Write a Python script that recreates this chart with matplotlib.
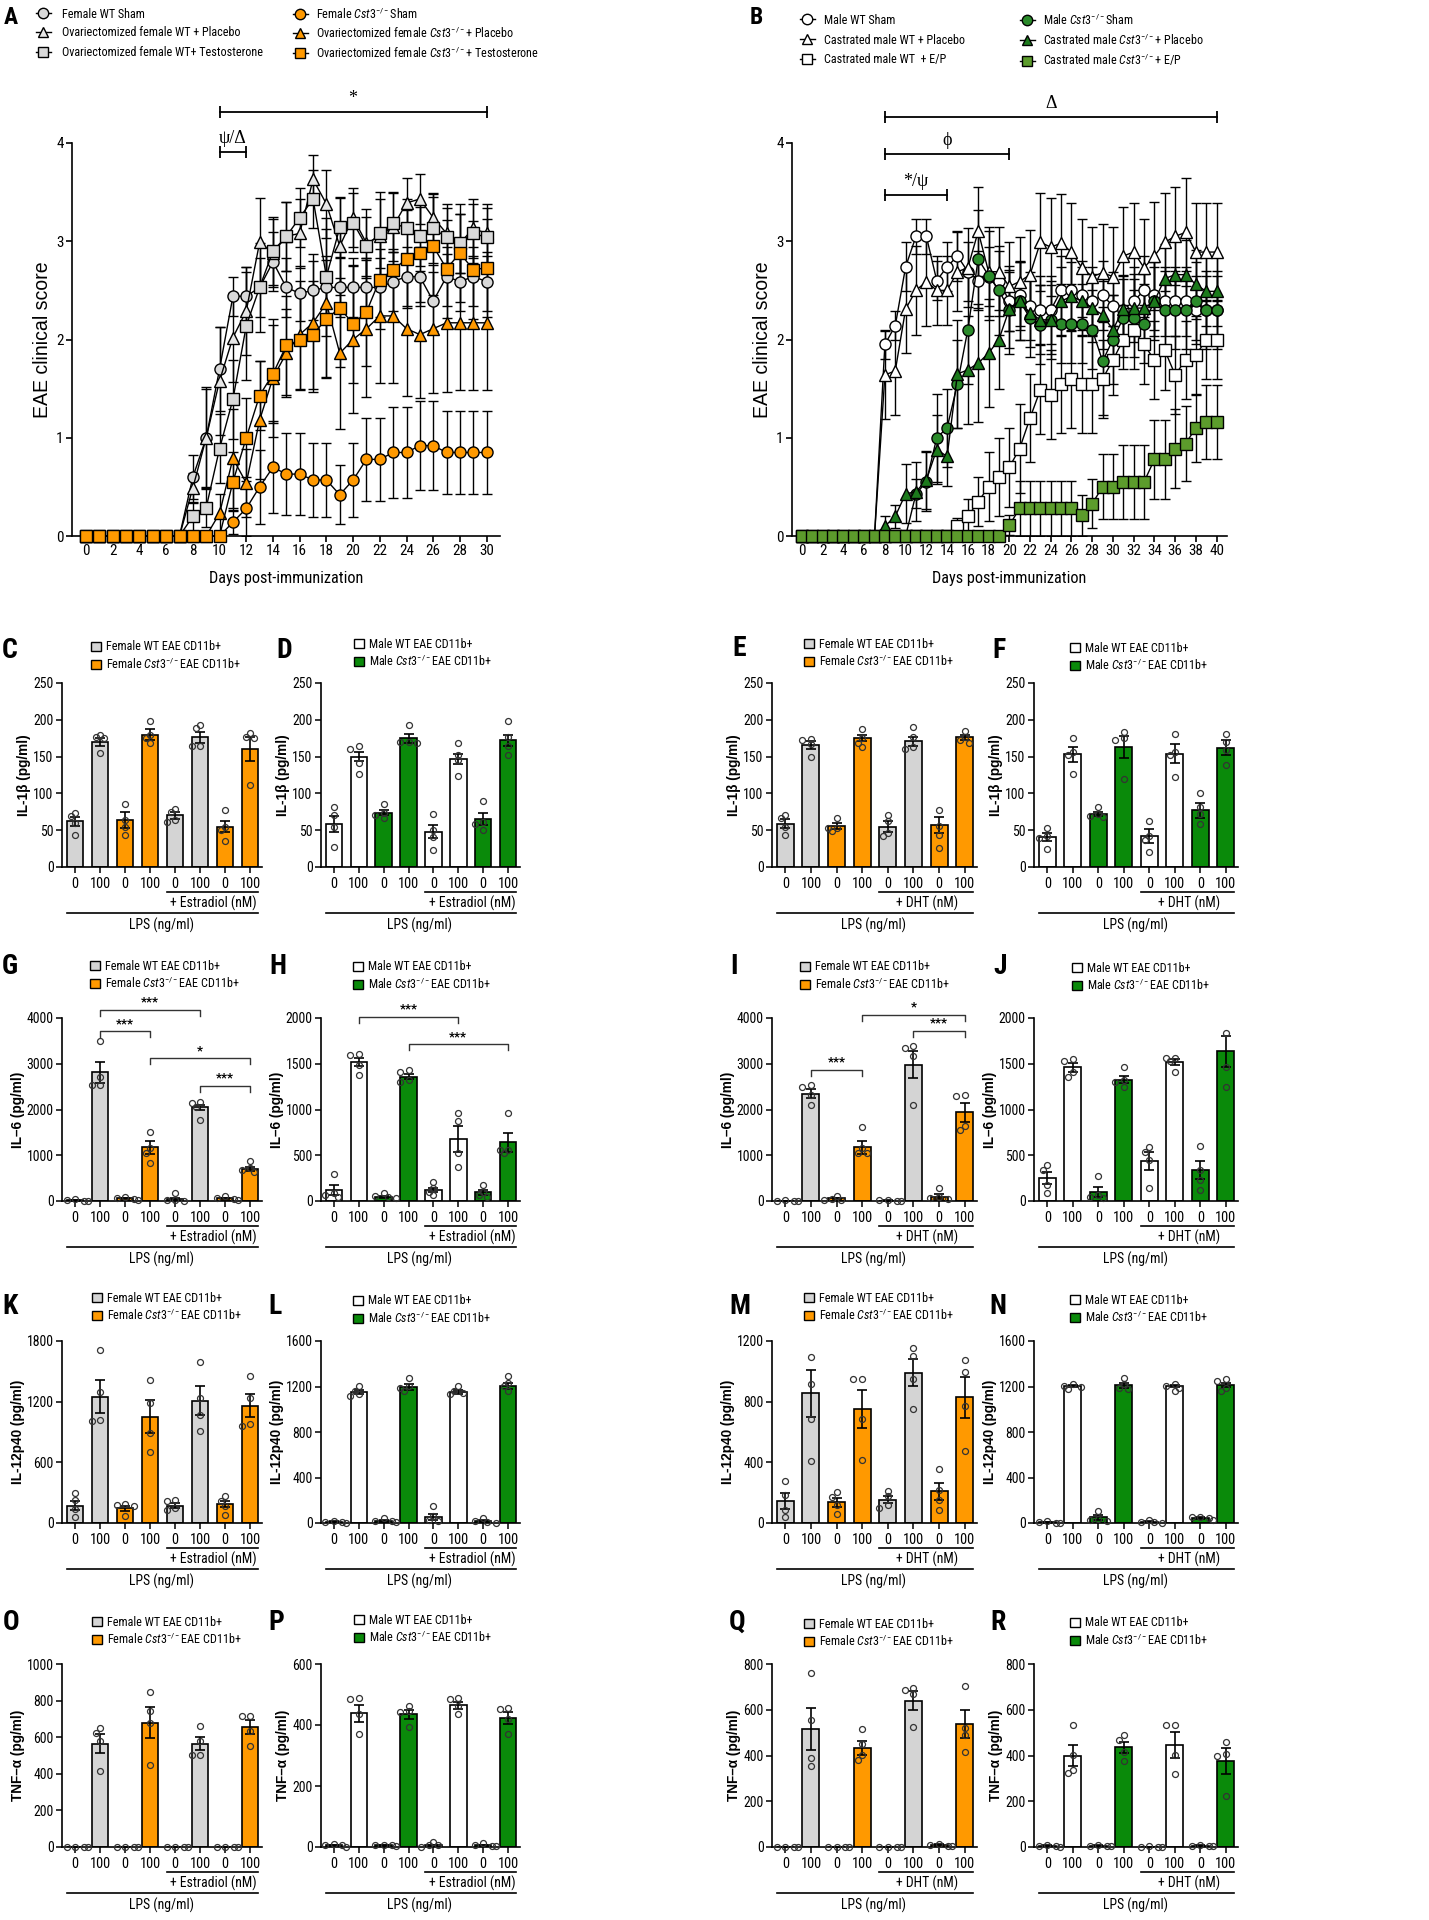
import numpy as np
import matplotlib
matplotlib.use('Agg')
import matplotlib.pyplot as plt
from matplotlib import font_manager
from matplotlib.font_manager import FontProperties
from matplotlib.textpath import TextPath
from matplotlib.lines import Line2D
from matplotlib.patches import Patch

# ---------- font selection (prefer a narrow sans face) ----------
_entries = font_manager.fontManager.ttflist
_names = {f.name for f in _entries}

def _w(f):
    w = f.weight
    if isinstance(w, str):
        w = font_manager.weight_dict.get(w, 400)
    return int(w)

def _has_bold(name):
    return any(f.name == name and _w(f) >= 600 and f.style == 'normal' for f in _entries)

FONT = 'Liberation Sans'
for cand in ('Liberation Sans Narrow', 'Arial Narrow', 'Nimbus Sans Narrow', 'Roboto Condensed',
             'PT Sans Narrow', 'Fira Sans Condensed', 'IBM Plex Sans Condensed', 'Archivo Narrow',
             'Encode Sans Condensed', 'Asap Condensed', 'Barlow Semi Condensed'):
    if cand in _names:
        FONT = cand
        break
REG = 'Liberation Sans' if 'Liberation Sans' in _names else 'DejaVu Sans'
SERIF = 'Liberation Serif' if 'Liberation Serif' in _names else 'DejaVu Serif'
FAM = [FONT, 'DejaVu Sans']
REGFAM = [REG, 'DejaVu Sans']
BOLDFAM = FAM if _has_bold(FONT) else REGFAM
plt.rcParams['font.family'] = FAM
plt.rcParams['mathtext.fontset'] = 'custom'
plt.rcParams['mathtext.rm'] = FONT
plt.rcParams['mathtext.it'] = FONT + ':italic'
plt.rcParams['mathtext.bf'] = FONT + ':bold'
plt.rcParams['axes.linewidth'] = 1.2

# ---------------- DATA: panel A (female EAE) ----------------
days_A = list(range(31))
A_wt_sham = [0]*8 + [0.60,1.00,1.70,2.44,2.44,2.53,2.79,2.53,2.47,2.50,2.53,2.53,2.53,2.53,2.53,2.59,2.64,2.64,2.39,2.64,2.59,2.64,2.59]
A_wt_sham_sem = [0]*8 + [0.22,0.52,0.43,0.20,0.30,0.30,0.30,0.30,0.28,0.30,0.32,0.30,0.30,0.30,0.30,0.30,0.30,0.30,0.30,0.30,0.30,0.30,0.30]
A_wt_pla = [0]*8 + [0.49,1.00,1.58,2.02,2.29,2.99,2.88,3.05,3.08,3.63,3.38,2.95,3.24,2.98,3.05,3.15,3.39,3.43,3.24,3.08,2.98,3.13,3.08]
A_wt_pla_sem = [0]*8 + [0.15,0.50,0.55,0.45,0.45,0.45,0.35,0.35,0.35,0.25,0.35,0.50,0.30,0.35,0.45,0.35,0.25,0.25,0.25,0.30,0.30,0.30,0.30]
A_wt_T = [0]*8 + [0.20,0.29,0.89,1.39,2.14,2.53,2.90,3.05,3.24,3.43,2.64,3.14,3.19,2.95,3.08,3.19,3.13,3.05,3.13,3.04,2.98,3.08,3.04]
A_wt_T_sem = [0]*8 + [0.15,0.20,0.35,0.40,0.55,0.45,0.35,0.35,0.30,0.30,0.60,0.30,0.30,0.30,0.35,0.30,0.30,0.30,0.35,0.30,0.30,0.30,0.30]
A_ko_sham = [0]*11 + [0.14,0.28,0.50,0.70,0.63,0.63,0.57,0.57,0.42,0.57,0.78,0.78,0.85,0.85,0.92,0.92,0.85,0.85,0.85,0.85]
A_ko_sham_sem = [0]*11 + [0.12,0.28,0.38,0.47,0.42,0.42,0.38,0.38,0.30,0.38,0.42,0.42,0.46,0.46,0.45,0.45,0.42,0.42,0.42,0.42]
A_ko_pla = [0]*10 + [0.23,0.79,0.54,1.18,1.61,1.86,2.05,2.17,2.37,1.86,2.00,2.11,2.24,2.24,2.11,2.05,2.11,2.17,2.17,2.17,2.17]
A_ko_pla_sem = [0]*10 + [0.20,0.50,0.35,0.60,0.60,0.45,0.55,0.70,0.75,0.77,0.75,0.70,0.68,0.68,0.68,0.65,0.65,0.70,0.68,0.68,0.68]
A_ko_T = [0]*11 + [0.55,1.00,1.43,1.65,1.94,1.99,2.05,2.21,2.32,2.16,2.28,2.61,2.71,2.82,2.88,2.95,2.72,2.88,2.71,2.73]
A_ko_T_sem = [0]*11 + [0.30,0.40,0.35,0.50,0.50,0.50,0.55,0.60,0.60,0.60,0.55,0.50,0.50,0.50,0.50,0.50,0.50,0.50,0.50,0.50]
KO = r'$\mathit{Cst3}^{-/-}$'
A_labels = ['Female WT Sham', 'Ovariectomized female WT + Placebo', 'Ovariectomized female WT+ Testosterone',
            'Female ' + KO + 'Sham', 'Ovariectomized female ' + KO + '+ Placebo',
            'Ovariectomized female ' + KO + '+ Testosterone']

# ---------------- DATA: panel B (male EAE) ----------------
days_B = list(range(41))
B_wt_sham = [0]*8 + [1.95,2.14,2.74,3.05,3.05,2.60,2.74,2.85,2.69,2.60,2.64,2.60,2.39,2.45,2.34,2.30,2.30,2.50,2.50,2.45,2.39,2.45,2.34,2.30,2.39,2.50,2.45,2.39,2.39,2.39,2.30,2.30,2.30]
B_wt_sham_sem = [0]*8 + [0.15,0.15,0.25,0.18,0.18,0.20,0.25,0.25,0.30,0.30,0.30,0.30,0.30,0.35,0.35,0.35,0.35,0.35,0.35,0.35,0.35,0.35,0.35,0.35,0.35,0.35,0.35,0.35,0.35,0.35,0.35,0.35,0.35]
B_wt_pla = [0]*8 + [1.64,1.68,2.31,2.50,2.59,2.50,2.50,2.69,2.73,3.10,2.69,2.69,2.54,2.59,2.66,2.99,2.94,2.98,2.89,2.73,2.64,2.68,2.64,2.85,2.89,2.73,2.85,2.99,3.05,3.09,2.89,2.89,2.89]
B_wt_pla_sem = [0]*8 + [0.45,0.45,0.45,0.45,0.45,0.35,0.35,0.40,0.40,0.45,0.45,0.45,0.45,0.45,0.45,0.50,0.50,0.50,0.50,0.50,0.50,0.50,0.50,0.50,0.50,0.50,0.55,0.50,0.50,0.55,0.50,0.50,0.50]
B_wt_EP = [0]*15 + [0.10,0.20,0.35,0.50,0.60,0.70,0.89,1.20,1.49,1.44,1.55,1.60,1.55,1.55,1.60,1.79,2.00,2.10,1.95,1.79,1.89,1.64,1.79,1.84,2.00,2.00]
B_wt_EP_sem = [0]*15 + [0.08,0.18,0.25,0.35,0.40,0.40,0.45,0.45,0.45,0.45,0.50,0.50,0.50,0.50,0.40,0.35,0.30,0.40,0.40,0.40,0.40,0.40,0.40,0.40,0.40,0.40]
B_ko_sham = [0]*11 + [0.43,0.55,1.00,1.10,1.55,2.10,2.82,2.65,2.50,2.30,2.39,2.22,2.15,2.20,2.16,2.16,2.16,2.10,1.78,2.00,2.22,2.22,2.16,2.39,2.30,2.30,2.30,2.39,2.30,2.30]
B_ko_sham_sem = [0]*11 + [0.15,0.30,0.45,0.40,0.45,0.55,0.50,0.45,0.45,0.45,0.40,0.40,0.40,0.40,0.40,0.40,0.40,0.40,0.55,0.45,0.40,0.40,0.40,0.40,0.40,0.40,0.40,0.40,0.40,0.40]
B_ko_pla = [0]*8 + [0.10,0.20,0.43,0.45,0.57,0.88,0.81,1.65,1.69,1.76,1.86,2.00,2.31,2.39,2.27,2.20,2.20,2.39,2.44,2.39,2.32,2.25,2.10,2.31,2.32,2.32,2.39,2.62,2.66,2.66,2.56,2.49,2.49]
B_ko_pla_sem = [0]*8 + [0.10,0.12,0.30,0.30,0.30,0.35,0.30,0.55,0.55,0.60,0.55,0.50,0.40,0.40,0.35,0.35,0.35,0.35,0.35,0.35,0.35,0.35,0.35,0.35,0.35,0.35,0.35,0.35,0.35,0.35,0.35,0.35,0.35]
B_ko_EP = [0]*20 + [0.11,0.28,0.28,0.28,0.28,0.28,0.28,0.21,0.33,0.50,0.50,0.55,0.55,0.55,0.78,0.78,0.89,0.94,1.10,1.16,1.16]
B_ko_EP_sem = [0]*20 + [0.10,0.28,0.28,0.28,0.28,0.28,0.28,0.21,0.25,0.33,0.33,0.38,0.38,0.38,0.40,0.40,0.40,0.38,0.35,0.38,0.38]
B_labels = ['Male WT Sham', 'Castrated male WT + Placebo', 'Castrated male WT  + E/P',
            'Male ' + KO + 'Sham', 'Castrated male ' + KO + '+ Placebo',
            'Castrated male ' + KO + '+ E/P']

# ---------------- DATA: bar panels (mean, SEM, individual points) ----------------
bar_ticklabels = ['0', '100', '0', '100', '0', '100', '0', '100']
C_mean = [62,170,64,180,70,176,55,160]
C_sem = [6,5,11,8,5,7,8,16]
C_pts = [[43,60,69,73],[155,175,176,180],[43,55,64,86],[168,175,180,198],[61,64,75,79],[164,164,189,193],[36,50,55,77],[111,175,177,182]]
D_mean = [58,150,74,175,48,147,65,172]
D_sem = [11,6,3,6,9,7,8,8]
D_pts = [[27,55,70,82],[127,141,161,164],[66,70,73,86],[168,170,170,193],[23,41,50,72],[123,145,152,168],[50,59,61,89],[152,164,177,198]]
E_mean = [59,166,56,175,55,171,57,176]
E_sem = [6,5,4,4,8,6,11,3]
E_pts = [[44,55,66,71],[149,167,173,174],[49,53,53,67],[163,169,175,187],[42,46,62,71],[160,163,177,190],[26,44,56,78],[169,172,177,185]]
F_mean = [41,153,72,163,42,154,77,162]
F_sem = [5,10,3,15,9,13,10,10]
F_pts = [[24,40,42,53],[127,152,156,175],[68,69,72,81],[120,172,175,184],[21,37,42,63],[122,152,156,181],[58,72,81,101],[138,159,170,181]]
G_mean = [20,2810,60,1175,40,2045,60,695]
G_sem = [10,230,15,140,25,60,15,50]
G_pts = [[0,10,20,50],[2525,2540,2720,3490],[30,40,60,90],[840,1045,1150,1500],[5,20,30,180],[1775,2065,2140,2160],[30,40,70,100],[640,680,715,880]]
H_mean = [120,1515,45,1360,120,675,95,640]
H_sem = [55,45,10,30,25,140,25,100]
H_pts = [[45,65,85,300],[1380,1490,1600,1605],[30,40,60,85],[1305,1325,1415,1435],[65,100,140,205],[375,520,870,960],[45,65,100,175],[520,560,560,960]]
I_mean = [5,2345,55,1175,10,2980,95,1935]
I_sem = [5,100,20,140,5,300,50,200]
I_pts = [[0,0,10,30],[2100,2320,2500,2540],[20,30,50,120],[1045,1060,1150,1615],[0,10,20,30],[2100,3160,3345,3380],[40,60,95,280],[1555,1630,2300,2320]]
J_mean = [250,1460,100,1325,440,1520,340,1635]
J_sem = [65,45,55,40,100,30,100,170]
J_pts = [[85,175,340,395],[1360,1415,1525,1550],[30,45,65,275],[1250,1305,1325,1460],[140,450,540,590],[1415,1525,1560,1560],[120,230,340,605],[1250,1460,1835]]
K_mean = [171,1250,145,1053,171,1211,188,1162]
K_sem = [45,165,25,165,25,140,30,110]
K_pts = [[59,138,230,296],[1004,1020,1300,1711],[66,165,174,191],[698,888,1185,1415],[132,148,214,230],[905,1069,1234,1596],[82,165,214,263],[961,980,1234,1454]]
L_mean = [10,1151,20,1198,50,1151,15,1204]
L_sem = [5,15,10,25,25,15,8,30]
L_pts = [[0,5,10,20],[1115,1130,1160,1204],[5,15,20,40],[1160,1189,1204,1277],[15,29,59,147],[1130,1145,1160,1204],[0,10,20,40],[1160,1204,1233,1292]]
M_mean = [145,856,138,750,154,992,208,829]
M_sem = [50,155,30,125,25,90,55,135]
M_pts = [[37,88,182,279],[406,684,915,1097],[59,116,171,204],[417,684,948,950],[101,116,175,213],[750,950,1101,1152],[88,154,215,355],[478,772,998,1075]]
N_mean = [5,1204,50,1210,10,1204,44,1213]
N_sem = [3,10,20,20,5,10,8,15]
N_pts = [[0,0,5,15],[1174,1195,1204,1218],[15,29,38,103],[1174,1189,1218,1277],[0,5,10,30],[1160,1189,1204,1218],[30,45,50,55],[1160,1189,1248,1262]]
O_mean = [0,565,0,680,0,565,0,656]
O_sem = [0,50,0,85,0,35,0,40]
O_pts = [[0,0,0,0],[413,577,623,650],[0,0,0,0],[450,678,741,847],[0,0,0,0],[505,505,577,659],[0,0,0,0],[550,632,714,714]]
P_mean = [5,439,5,435,5,465,5,424]
P_sem = [2,28,1,15,3,12,2,20]
P_pts = [[0,5,5,10],[370,435,485,487],[3,5,5,6],[392,441,446,463],[0,5,5,15],[435,463,485,487],[2,4,5,12],[370,419,454,457]]
Q_mean = [0,516,0,433,0,640,10,538]
Q_sem = [0,90,0,30,0,40,3,60]
Q_pts = [[0,0,0,0],[353,389,557,761],[0,0,0,0],[382,404,452,516],[0,0,0,0],[523,669,688,695],[5,5,10,15],[414,491,520,706]]
R_mean = [5,399,5,436,0,446,5,376]
R_sem = [2,45,2,25,0,55,2,55]
R_pts = [[2,5,5,8],[323,338,402,532],[3,5,5,8],[377,414,468,488],[0,0,2,4],[319,402,532,535],[3,5,5,8],[223,399,407,458]]
G_brackets = [(1,5,4180,'***'),(1,3,3710,'***'),(3,7,3125,'*'),(5,7,2520,'***')]
H_brackets = [(1,5,2015,'***'),(3,7,1715,'***')]
I_brackets = [(3,7,4070,'*'),(5,7,3720,'***'),(1,3,2870,'***')]
female_labels = ['Female WT EAE CD11b+', 'Female ' + KO + 'EAE CD11b+']
male_labels = ['Male WT EAE CD11b+', 'Male ' + KO + 'EAE CD11b+']

# ---------------- colours ----------------
GREY = '#d4d4d4'
ORANGE = '#ff9900'
GREEN = '#0a8a0a'

W, H = 1429, 1920
fig = plt.figure(figsize=(W/100, H/100), dpi=100)
_rend = fig.canvas.get_renderer()

def fx(x): return x / W
def fy(y): return 1 - y / H

def size_for(s, w_px, cap_px=None, weight='normal', family=None, hw=0.5):
    """font size (pt): weighted compromise between the reference's text width and cap height"""
    fam = family or FAM
    t = fig.text(0, 0, s, fontsize=10, fontweight=weight, family=fam)
    w = t.get_window_extent(_rend).width
    t.remove()
    sw = 10 * w_px / w
    if cap_px is None:
        return sw
    tp = TextPath((0, 0), 'H', size=100, prop=FontProperties(family=fam, weight=weight))
    cap_em = tp.get_extents().height / 100.0
    sh = cap_px / (cap_em * 100 / 72)
    return sw ** (1 - hw) * sh ** hw

FS_ALEG = size_for('Ovariectomized female WT+ Testosterone', 202, 8.5, hw=0.6)
FS_BLEG = size_for('Female WT EAE CD11b+', 108, 9.0, hw=0.6)
FS_HORM = 0.5 * (size_for('+ Estradiol (nM)', 78, 10.5, hw=0.65) + size_for('LPS (ng/ml)', 57, 10.5, hw=0.65))
FS_XT = size_for('100', 18, 10.7, hw=0.75)
FS_YT = size_for('250', 19, 10.0, hw=0.7)
FS_ATK = size_for('30', 15, 10.7, hw=0.75)
FS_DAYS = size_for('Days post-immunization', 152, 11.7, hw=0.55)
FS_EAEY = size_for('EAE clinical score', 157, family=REGFAM)
FS_BARY = size_for('IL-1β (pg/ml)', 82, weight='bold', family=REGFAM)
FS_STAR = size_for('***', 18, weight='bold')
FS_LET = size_for('C', 14, 20, weight='bold', family=BOLDFAM, hw=0.85)
FS_LETAB = size_for('A', 13, 17, weight='bold', family=BOLDFAM, hw=0.85)

def add_ax(l, t, r, b):
    return fig.add_axes([l/W, 1-b/H, (r-l)/W, (b-t)/H])

def letter(x, y, s, fs):
    fig.text(fx(x), fy(y), s, fontsize=fs, fontweight='bold', ha='center', va='center', family=BOLDFAM)

YLABELS = []   # (axes, text, reference offset in px) -> kept clear of the tick labels below

# ---------------- EAE panels ----------------
def eae_panel(box, days, series, xlim, ticks, sig):
    l, t, r, b = box
    ax = add_ax(l, t, r, b)
    d = np.array(days)
    for vals, sems, mk, fc in series:
        v = np.array(vals); s = np.array(sems)
        m = s > 0
        ax.errorbar(d[m], v[m], yerr=s[m], fmt='none', ecolor='black', elinewidth=1.0,
                    capsize=3.5, capthick=1.0, zorder=2)
    for vals, sems, mk, fc in series:
        ax.plot(d, vals, color='black', lw=1.0, marker=mk, ms=8, mfc=fc, mec='black', mew=1.0,
                zorder=3, clip_on=False)
    ax.set_xlim(*xlim)
    ax.set_ylim(0, 4)
    ax.set_yticks([0, 1, 2, 3, 4])
    ax.set_xticks(ticks)
    ax.tick_params(labelsize=FS_ATK, length=4, width=1.2, pad=2)
    for sp in ('top', 'right'):
        ax.spines[sp].set_visible(False)
    yl = ax.text(-29/(r-l), 0.5, 'EAE clinical score', transform=ax.transAxes, rotation=90,
                 ha='center', va='center', fontsize=FS_EAEY, family=REGFAM)
    YLABELS.append((ax, yl, 29))
    ax.text(0.5, -42/(b-t), 'Days post-immunization', transform=ax.transAxes,
            ha='center', va='center', fontsize=FS_DAYS)
    for x0, x1, yv, txt in sig:
        ax.plot([x0, x1], [yv, yv], color='black', lw=1.3, clip_on=False)
        ax.plot([x0, x1], [yv, yv], ls='none', marker='|', ms=8, mew=1.3, color='black', clip_on=False)
        ax.text((x0+x1)/2, yv + 0.05, txt, ha='center', va='bottom', fontsize=13,
                family=[SERIF, 'DejaVu Serif'])
    return ax

def eae_legend(specs, labels, x_marker, x_text, ys):
    fs = FS_ALEG
    fs_px = fs * 100 / 72
    hl_px = 15
    for (mk, fc), lab, y in zip(specs, labels, ys):
        h = Line2D([], [], color='black', lw=1.0, marker=mk, ms=7.5, mfc=fc, mec='black', mew=1.0)
        fig.legend([h], [lab], loc='center left',
                   bbox_to_anchor=(fx(x_marker - hl_px/2), fy(y)),
                   frameon=False, fontsize=fs, handlelength=hl_px/fs_px,
                   handletextpad=(x_text - x_marker - hl_px/2)/fs_px,
                   borderpad=0, borderaxespad=0, numpoints=1)

A_specs = [('o', '#d9d9d9'), ('^', '#e6e6e6'), ('s', '#d9d9d9'),
           ('o', ORANGE), ('^', ORANGE), ('s', ORANGE)]
A_series = [(A_wt_sham, A_wt_sham_sem), (A_wt_pla, A_wt_pla_sem), (A_wt_T, A_wt_T_sem),
            (A_ko_sham, A_ko_sham_sem), (A_ko_pla, A_ko_pla_sem), (A_ko_T, A_ko_T_sem)]
eae_panel((72, 143, 500, 536), days_A,
          [(v, s, mk, fc) for (v, s), (mk, fc) in zip(A_series, A_specs)],
          (-1.05, 31.0), list(range(0, 31, 2)),
          [(10, 30, 4.32, '*'), (10, 12, 3.91, 'ψ/Δ')])
B_specs = [('o', 'white'), ('^', 'white'), ('s', 'white'),
           ('o', '#2a8a2a'), ('^', '#1c7a1c'), ('s', '#5c9c2c')]
B_series = [(B_wt_sham, B_wt_sham_sem), (B_wt_pla, B_wt_pla_sem), (B_wt_EP, B_wt_EP_sem),
            (B_ko_sham, B_ko_sham_sem), (B_ko_pla, B_ko_pla_sem), (B_ko_EP, B_ko_EP_sem)]
eae_panel((792, 143, 1227, 536), days_B,
          [(v, s, mk, fc) for (v, s), (mk, fc) in zip(B_series, B_specs)],
          (-0.96, 41.0), list(range(0, 41, 2)),
          [(8, 40, 4.265, 'Δ'), (8, 20, 3.89, 'ϕ'), (8, 14, 3.47, '*/ψ')])

letter(11, 17, 'A', FS_LETAB)
letter(756, 17, 'B', FS_LETAB)
eae_legend(A_specs[:3], A_labels[:3], 43, 62, (14, 33, 53))
eae_legend(A_specs[3:], A_labels[3:], 300, 316, (14, 33, 53))
eae_legend(B_specs[:3], B_labels[:3], 807, 824, (20, 40, 60))
eae_legend(B_specs[3:], B_labels[3:], 1027, 1043, (20, 40, 60))

# ---------------- bar panels ----------------
COLS = [(62, 262), (321, 520), (772, 977), (1034, 1238)]
ROWS = [(683, 867), (1018, 1201), (1341, 1523), (1664, 1847)]

def bar_legend(female, xsq, y1):
    fs = FS_BLEG
    fs_px = fs * 100 / 72
    sq = 9.5
    labels = female_labels if female else male_labels
    cols = [GREY, ORANGE] if female else ['white', GREEN]
    for k, (c, lab) in enumerate(zip(cols, labels)):
        h = Patch(facecolor=c, edgecolor='black', lw=1.0)
        fig.legend([h], [lab], loc='center left', bbox_to_anchor=(fx(xsq - sq/2), fy(y1 + 17*k)),
                   frameon=False, fontsize=fs, handlelength=sq/fs_px, handleheight=sq/fs_px,
                   handletextpad=5/fs_px, borderpad=0, borderaxespad=0)

def bar_panel(col, row, means, sems, pts, female, ymax, ystep, ylabel, hormone, ylab_off, brackets=()):
    l, r = COLS[col]
    t, b = ROWS[row]
    ax = add_ax(l, t, r, b)
    hpx = b - t
    c_wt, c_ko = (GREY, ORANGE) if female else ('white', GREEN)
    colors = [c_wt, c_wt, c_ko, c_ko] * 2
    x = np.arange(8)
    ax.bar(x, means, width=0.66, color=colors, edgecolor='black', linewidth=1.2, zorder=2)
    ax.errorbar(x, means, yerr=sems, fmt='none', ecolor='black', elinewidth=1.2,
                capsize=3.5, capthick=1.2, zorder=3)
    upp = ymax / hpx
    xpx = (r - l) / 8.0
    for i, p in enumerate(pts):
        placed = []
        for v in sorted(p, reverse=True):
            for off in (0, -0.17, 0.17, -0.34, 0.34, -0.5, 0.5):
                if all(((off - o) * xpx) ** 2 + ((v - w) / upp) ** 2 >= 26 for o, w in placed):
                    break
            placed.append((off, v))
        ax.plot([i + o for o, _ in placed], [w for _, w in placed], ls='none', marker='o', ms=4.3,
                mfc='none', mec='#333333', mew=0.9, zorder=4, clip_on=False)
    ax.set_xlim(-0.52, 7.48)
    ax.set_ylim(0, ymax)
    ax.set_yticks(np.arange(0, ymax + ystep / 2, ystep))
    ax.set_xticks(x)
    ax.set_xticklabels(bar_ticklabels)
    ax.tick_params(axis='y', labelsize=FS_YT, length=4, width=1.1, pad=2)
    ax.tick_params(axis='x', labelsize=FS_XT, length=4, width=1.1, pad=3)
    for sp in ('top', 'right'):
        ax.spines[sp].set_visible(False)
    tr = ax.get_xaxis_transform()
    ax.plot([3.67, 7.33], [-25 / hpx] * 2, transform=tr, clip_on=False, color='black', lw=1.2)
    ax.text(5.55, -36 / hpx, hormone, transform=tr, ha='center', va='center', fontsize=FS_HORM)
    ax.plot([-0.32, 7.33], [-46 / hpx] * 2, transform=tr, clip_on=False, color='black', lw=1.2)
    ax.text(3.45, -58 / hpx, 'LPS (ng/ml)', transform=tr, ha='center', va='center', fontsize=FS_HORM)
    yl = ax.text(-ylab_off / (r - l), 0.5, ylabel, transform=ax.transAxes, rotation=90,
                 ha='center', va='center', fontsize=FS_BARY, fontweight='bold', family=REGFAM)
    YLABELS.append((ax, yl, ylab_off))
    for i, j, yv, txt in brackets:
        dd = 6 * upp
        ax.plot([i, i, j, j], [yv - dd, yv, yv, yv - dd], color='#333333', lw=1.0, clip_on=False)
        ax.text((i + j) / 2, yv + 1 * upp, txt, ha='center', va='bottom', fontsize=FS_STAR, fontweight='bold')
    return ax

EST = '+ Estradiol (nM)'
DHT = '+ DHT (nM)'
IL1 = 'IL-1β (pg/ml)'
IL6 = 'IL–6 (pg/ml)'
IL12 = 'IL-12p40 (pg/ml)'
TNF = 'TNF–α (pg/ml)'

bar_panel(0, 0, C_mean, C_sem, C_pts, True, 250, 50, IL1, EST, 30)
bar_panel(1, 0, D_mean, D_sem, D_pts, False, 250, 50, IL1, EST, 34)
bar_panel(2, 0, E_mean, E_sem, E_pts, True, 250, 50, IL1, DHT, 30)
bar_panel(3, 0, F_mean, F_sem, F_pts, False, 250, 50, IL1, DHT, 31)
bar_panel(0, 1, G_mean, G_sem, G_pts, True, 4000, 1000, IL6, EST, 38, G_brackets)
bar_panel(1, 1, H_mean, H_sem, H_pts, False, 2000, 500, IL6, EST, 38, H_brackets)
bar_panel(2, 1, I_mean, I_sem, I_pts, True, 4000, 1000, IL6, DHT, 37, I_brackets)
bar_panel(3, 1, J_mean, J_sem, J_pts, False, 2000, 500, IL6, DHT, 34)
bar_panel(0, 2, K_mean, K_sem, K_pts, True, 1800, 600, IL12, EST, 37)
bar_panel(1, 2, L_mean, L_sem, L_pts, False, 1600, 400, IL12, EST, 37)
bar_panel(2, 2, M_mean, M_sem, M_pts, True, 1200, 400, IL12, DHT, 35)
bar_panel(3, 2, N_mean, N_sem, N_pts, False, 1600, 400, IL12, DHT, 34)
bar_panel(0, 3, O_mean, O_sem, O_pts, True, 1000, 200, TNF, EST, 40)
bar_panel(1, 3, P_mean, P_sem, P_pts, False, 600, 200, TNF, EST, 34)
bar_panel(2, 3, Q_mean, Q_sem, Q_pts, True, 800, 200, TNF, DHT, 34)
bar_panel(3, 3, R_mean, R_sem, R_pts, False, 800, 200, TNF, DHT, 33)

letters = [('C', 10, 650), ('D', 284, 650), ('E', 739, 648), ('F', 999, 650),
           ('G', 10, 967), ('H', 278, 967), ('I', 734, 967), ('J', 1000, 967),
           ('K', 10, 1307), ('L', 275, 1307), ('M', 740, 1307), ('N', 998, 1307),
           ('O', 11, 1622), ('P', 276, 1622), ('Q', 737, 1622), ('R', 998, 1622)]
for s, x, y in letters:
    letter(x, y, s, FS_LET)

legends = [(True, 96, 647), (False, 359, 644), (True, 809, 644), (False, 1075, 648),
           (True, 95, 966), (False, 358, 967), (True, 805, 967), (False, 1077, 968),
           (True, 97, 1298), (False, 358, 1301), (True, 809, 1298), (False, 1075, 1300),
           (True, 97, 1622), (False, 359, 1620), (True, 809, 1624), (False, 1075, 1623)]
for fem, x, y in legends:
    bar_legend(fem, x, y)

# keep every y-axis title clear of its tick labels
fig.canvas.draw()
for ax, yl, off in YLABELS:
    abb = ax.get_window_extent()
    tl = [t.get_window_extent() for t in ax.get_yticklabels() if t.get_visible() and t.get_text()]
    left = min(bb.x0 for bb in tl)
    half = yl.get_window_extent().width / 2
    cx = min(abb.x0 - off, left - 2 - half)
    cx = max(cx, half + 1)
    yl.set_position(((cx - abb.x0) / abb.width, 0.5))

fig.savefig('out.png', dpi=100)
